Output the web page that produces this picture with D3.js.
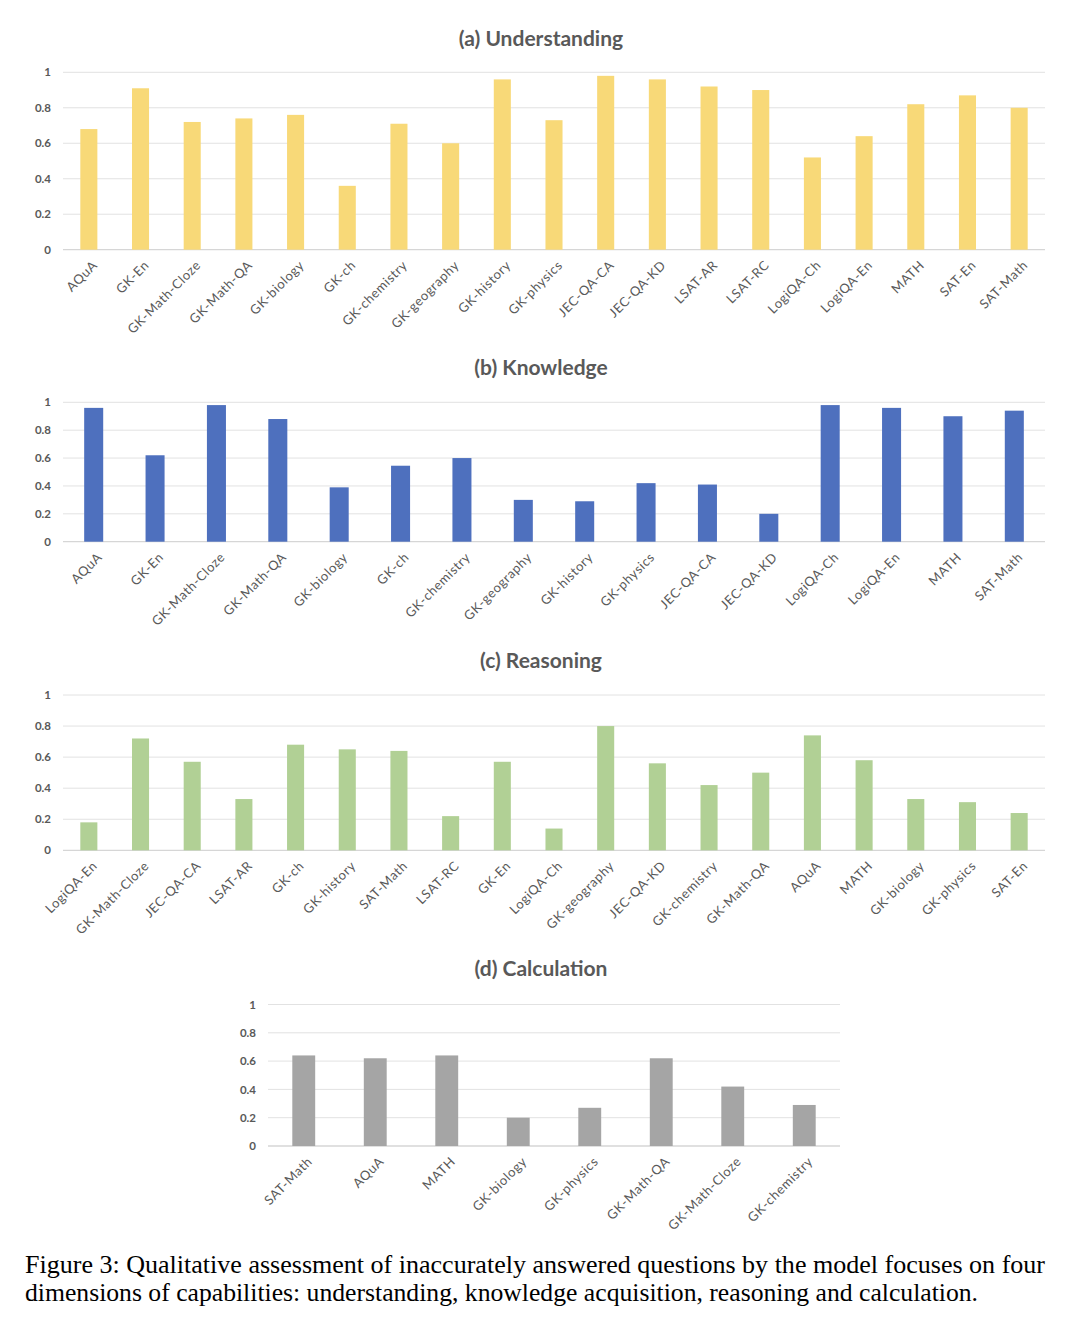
<!DOCTYPE html>
<html><head><meta charset="utf-8">
<script src="https://cdn.jsdelivr.net/npm/d3@7"></script>
<style>
html,body{margin:0;padding:0;background:#fff;}
svg{display:block;}
</style></head>
<body>
<svg id="chart" width="1080" height="1339"></svg>
<script>
// ---- data ----
const understandingCats = ["AQuA","GK-En","GK-Math-Cloze","GK-Math-QA","GK-biology","GK-ch","GK-chemistry","GK-geography","GK-history","GK-physics","JEC-QA-CA","JEC-QA-KD","LSAT-AR","LSAT-RC","LogiQA-Ch","LogiQA-En","MATH","SAT-En","SAT-Math"];
const understandingVals = [0.68,0.91,0.72,0.74,0.76,0.36,0.71,0.60,0.96,0.73,0.98,0.96,0.92,0.90,0.52,0.64,0.82,0.87,0.80];

const knowledgeCats = ["AQuA","GK-En","GK-Math-Cloze","GK-Math-QA","GK-biology","GK-ch","GK-chemistry","GK-geography","GK-history","GK-physics","JEC-QA-CA","JEC-QA-KD","LogiQA-Ch","LogiQA-En","MATH","SAT-Math"];
const knowledgeVals = [0.96,0.62,0.98,0.88,0.39,0.545,0.60,0.30,0.29,0.42,0.41,0.20,0.98,0.96,0.90,0.94];

const reasoningCats = ["LogiQA-En","GK-Math-Cloze","JEC-QA-CA","LSAT-AR","GK-ch","GK-history","SAT-Math","LSAT-RC","GK-En","LogiQA-Ch","GK-geography","JEC-QA-KD","GK-chemistry","GK-Math-QA","AQuA","MATH","GK-biology","GK-physics","SAT-En"];
const reasoningVals = [0.18,0.72,0.57,0.33,0.68,0.65,0.64,0.22,0.57,0.14,0.80,0.56,0.42,0.50,0.74,0.58,0.33,0.31,0.24];

const calculationCats = ["SAT-Math","AQuA","MATH","GK-biology","GK-physics","GK-Math-QA","GK-Math-Cloze","GK-chemistry"];
const calculationVals = [0.64,0.62,0.64,0.20,0.27,0.62,0.42,0.29];

const yTicks = [0,0.2,0.4,0.6,0.8,1];
const yTickLabels = ["0","0.2","0.4","0.6","0.8","1"];
const titles = ["(a) Understanding","(b) Knowledge","(c) Reasoning","(d) Calculation"];
const captionLines = ["Figure 3: Qualitative assessment of inaccurately answered questions by the model focuses on four",
                      "dimensions of capabilities: understanding, knowledge acquisition, reasoning and calculation."];

// ---- layout ----
const svg = d3.select("#chart");
const panels = [
  {cats: understandingCats, vals: understandingVals, title: titles[0], color: "#F8D978", x0: 63, x1: 1045, yTop: 72.3, yBot: 249.7, titleY: 41, pad: 0.67},
  {cats: knowledgeCats, vals: knowledgeVals, title: titles[1], color: "#4E70BE", x0: 63, x1: 1045, yTop: 402.3, yBot: 541.7, titleY: 370, pad: 0.69},
  {cats: reasoningCats, vals: reasoningVals, title: titles[2], color: "#B1D095", x0: 63, x1: 1045, yTop: 695, yBot: 850.3, titleY: 663, pad: 0.67},
  {cats: calculationCats, vals: calculationVals, title: titles[3], color: "#A5A5A5", x0: 268, x1: 840, yTop: 1004.5, yBot: 1146, titleY: 971, pad: 0.68}
];

const labelColor = "#595959";

panels.forEach(p => {
  const g = svg.append("g");
  const x = d3.scaleBand().domain(p.cats).range([p.x0, p.x1]).paddingInner(p.pad).paddingOuter(p.pad/2);
  const y = d3.scaleLinear().domain([0,1]).range([p.yBot, p.yTop]);

  // gridlines
  g.selectAll("line.grid").data(yTicks).enter().append("line")
    .attr("x1", p.x0).attr("x2", p.x1)
    .attr("y1", d => y(d)).attr("y2", d => y(d))
    .attr("stroke", d => d === 0 ? "#d6d6d6" : "#e2e2e2")
    .attr("stroke-width", d => d === 0 ? 1.3 : 1);

  // y axis labels
  const yAxis = d3.axisLeft(y).tickValues(yTicks).tickFormat((d,i) => yTickLabels[i]).tickSize(0).tickPadding(12);
  const ya = g.append("g").attr("transform", `translate(${p.x0},0)`).call(yAxis);
  ya.select(".domain").remove();
  ya.selectAll("text").attr("fill", labelColor).style("font-family", "Lato, 'Open Sans', sans-serif")
    .style("font-size", "11.5px").style("font-weight", "bold");

  // bars
  g.selectAll("rect").data(p.vals).enter().append("rect")
    .attr("x", (d,i) => x(p.cats[i]))
    .attr("width", x.bandwidth())
    .attr("y", d => y(d))
    .attr("height", d => y(0) - y(d))
    .attr("fill", p.color);

  // x labels
  const xAxis = d3.axisBottom(x).tickSize(0).tickPadding(0);
  const xa = g.append("g").attr("transform", `translate(0,${p.yBot})`).call(xAxis);
  xa.select(".domain").remove();
  xa.selectAll("text")
    .attr("text-anchor", "end")
    .attr("dy", null).attr("y", null)
    .attr("transform", "translate(7,14) rotate(-45)")
    .attr("dominant-baseline", "middle")
    .attr("fill", labelColor)
    .style("font-family", "Lato, 'Open Sans', sans-serif")
    .style("font-size", "13px")
    .style("letter-spacing", "0.6px");

  // title
  svg.append("text").attr("x", 541).attr("y", p.titleY)
    .attr("text-anchor", "middle").attr("dominant-baseline", "middle")
    .attr("fill", "#595959")
    .style("font-family", "Lato, 'Open Sans', sans-serif")
    .style("font-size", "21px").style("font-weight", "bold")
    .text(p.title);
});

// caption
svg.selectAll("text.caption").data(captionLines).enter().append("text")
  .attr("class", "caption")
  .attr("x", 25).attr("y", (d,i) => 1273 + i*28)
  .attr("fill", "#000")
  .style("font-family", "'Liberation Serif', 'Times New Roman', serif")
  .style("font-size", "24.5px")
  .attr("textLength", (d,i) => i === 0 ? 1020 : 953)
  .attr("lengthAdjust", "spacingAndGlyphs")
  .text(d => d);
</script>
</body></html>
